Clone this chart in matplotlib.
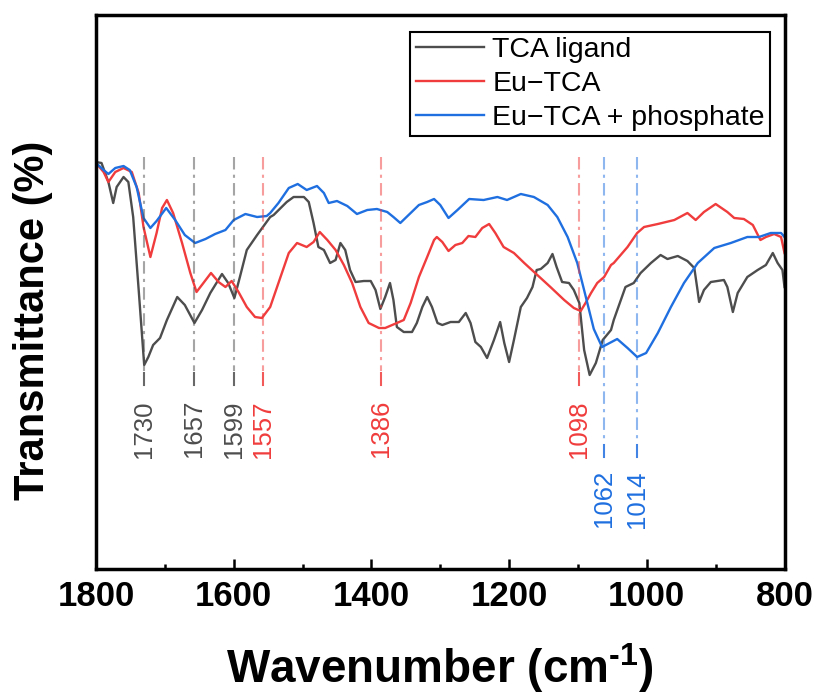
import matplotlib
matplotlib.use('Agg')
import matplotlib.pyplot as plt
from matplotlib.ticker import MultipleLocator

plt.rcParams['font.family'] = ['Liberation Sans', 'DejaVu Sans']
plt.rcParams['mathtext.fontset'] = 'custom'
plt.rcParams['mathtext.rm'] = 'Liberation Sans:bold'
plt.rcParams['mathtext.default'] = 'rm'

# FTIR spectra (wavenumber in cm-1, transmittance in arb. units)
tca_wn = [1800, 1792, 1782, 1775, 1770, 1760, 1753, 1746, 1738, 1730, 1724, 1717, 1707, 1697,
          1682, 1671, 1657, 1646, 1634, 1617, 1608, 1599, 1591, 1581, 1566, 1547, 1542, 1523,
          1513, 1498, 1491, 1484, 1477, 1469, 1460, 1452, 1445, 1438, 1431, 1423, 1411, 1401,
          1394, 1387, 1380, 1373, 1368, 1363, 1353, 1341, 1334, 1326, 1319, 1312, 1304, 1297,
          1285, 1273, 1263, 1256, 1249, 1241, 1232, 1222, 1213, 1207, 1200, 1193, 1183, 1174,
          1166, 1160, 1154, 1144, 1137, 1131, 1123, 1113, 1106, 1098, 1091, 1083, 1074, 1064,
          1052, 1048, 1031, 1019, 1009, 994, 980, 970, 955, 941, 931, 927, 924, 917, 907, 888,
          883, 875, 868, 854, 839, 827, 817, 810, 803, 800]
tca_t = [407, 406, 387, 366, 382, 392, 387, 352, 279, 204, 212, 224, 231, 249,
         272, 264, 246, 259, 276, 295, 286, 271, 292, 319, 334, 352, 354, 367,
         372, 372, 367, 346, 322, 319, 306, 309, 326, 319, 299, 287, 288, 288,
         279, 260, 272, 286, 269, 242, 237, 237, 246, 262, 272, 262, 246, 244,
         247, 247, 256, 246, 227, 222, 211, 229, 247, 226, 207, 229, 262, 271,
         282, 299, 300, 306, 315, 302, 287, 286, 279, 266, 219, 194, 206, 229,
         239, 249, 282, 286, 296, 306, 314, 310, 313, 308, 301, 282, 267, 279, 287, 289,
         282, 257, 276, 292, 299, 304, 316, 306, 299, 282]

eu_wn = [1800, 1789, 1782, 1772, 1760, 1748, 1738, 1731, 1721, 1712, 1704, 1697, 1688, 1675,
         1663, 1654, 1644, 1633, 1622, 1612, 1603, 1593, 1581, 1569, 1559, 1547, 1532, 1520,
         1508, 1494, 1484, 1475, 1464, 1452, 1440, 1428, 1416, 1404, 1389, 1380, 1363, 1353,
         1343, 1331, 1319, 1309, 1305, 1297, 1288, 1278, 1268, 1259, 1249, 1239, 1229, 1220,
         1208, 1193, 1178, 1159, 1140, 1120, 1106, 1096, 1089, 1081, 1072, 1062, 1052, 1048,
         1028, 1014, 1004, 984, 960, 941, 929, 917, 900, 883, 873, 859, 846, 835, 827, 815,
         805, 800]
eu_t = [406, 397, 387, 397, 401, 397, 376, 342, 312, 336, 361, 369, 356, 326,
        296, 277, 286, 296, 287, 282, 288, 277, 262, 252, 251, 262, 292, 316,
        326, 322, 327, 337, 329, 319, 304, 286, 262, 246, 241, 241, 246, 249,
        266, 292, 312, 329, 332, 327, 318, 324, 326, 333, 332, 341, 345, 336,
        322, 316, 306, 294, 282, 269, 261, 258, 266, 276, 286, 292, 304, 306,
        322, 336, 342, 345, 349, 356, 349, 357, 365, 357, 351, 350, 344, 329, 332, 335,
        332, 316]

phos_wn = [1800, 1789, 1782, 1772, 1760, 1751, 1741, 1731, 1721, 1712, 1698, 1685, 1671, 1656,
           1641, 1627, 1612, 1600, 1583, 1566, 1552, 1547, 1535, 1520, 1507, 1494, 1479, 1469,
           1462, 1450, 1435, 1421, 1406, 1392, 1377, 1368, 1358, 1346, 1331, 1319, 1309, 1300,
           1288, 1275, 1258, 1237, 1217, 1203, 1183, 1164, 1144, 1130, 1115, 1101, 1090, 1077,
           1065, 1043, 1028, 1014, 1001, 984, 965, 946, 926, 902, 878, 854, 837, 820, 805, 800]
phos_t = [406, 399, 395, 401, 403, 399, 382, 351, 341, 348, 361, 349, 334, 326,
          330, 335, 339, 349, 355, 352, 353, 356, 366, 381, 385, 379, 383, 376,
          366, 368, 363, 355, 359, 360, 357, 352, 346, 354, 364, 367, 370, 364,
          351, 359, 370, 369, 372, 369, 375, 372, 364, 352, 332, 306, 276, 240,
          222, 230, 221, 212, 216, 236, 262, 286, 306, 321, 326, 332, 332, 336, 336, 332]

peaks_tca = [1730, 1657, 1599]
peaks_eu = [1557, 1386, 1098]
peaks_phos = [1062, 1014]

xticks = [1800, 1600, 1400, 1200, 1000, 800]

gray = '#4d4d4d'
red = '#f03c3c'
blue = '#1f6fe0'

fig = plt.figure(figsize=(8.19, 6.97), dpi=100)
ax = fig.add_axes([96 / 819, 1 - 569 / 697, 688.5 / 819, 554 / 697])

ax.plot(tca_wn, tca_t, color=gray, lw=1.7, label='TCA ligand')
ax.plot(eu_wn, eu_t, color=red, lw=1.7, label='Eu\u2212TCA')
ax.plot(phos_wn, phos_t, color=blue, lw=1.7, label='Eu\u2212TCA + phosphate')

# peak markers: light dash-dot line, darker last dash just above the label
dashdot = (0, (6, 2.5, 1.5, 2.5))
for peaks, c, bottom, ytxt in [(peaks_tca, gray, 184, 169), (peaks_eu, red, 184, 169),
                               (peaks_phos, blue, 112, 99)]:
    for p in peaks:
        ax.plot([p, p], [412, bottom + 14], color=c, lw=1.5, ls=dashdot, alpha=0.5)
        ax.plot([p, p], [bottom + 12, bottom], color=c, lw=1.5, alpha=0.85)
        ax.text(p, ytxt, str(p), rotation=90, ha='center', va='top', color=c, fontsize=18.5)

ax.set_xlim(1800, 800)
ax.set_ylim(0, 554)
ax.set_yticks([])
ax.set_xticks(xticks)
ax.set_xticklabels([str(t) for t in xticks], fontweight='bold')
ax.xaxis.set_minor_locator(MultipleLocator(100))
ax.tick_params(axis='x', which='major', direction='in', length=7, width=1.8, labelsize=25, pad=8)
ax.tick_params(axis='x', which='minor', direction='in', length=3.5, width=1.8)
for s in ax.spines.values():
    s.set_linewidth(2.5)

leg = ax.legend(loc='upper right', bbox_to_anchor=(0.979, 0.969), borderaxespad=0,
                fontsize=20.5, handlelength=2.4, handletextpad=0.3, labelspacing=0.28,
                borderpad=0.18, fancybox=False, edgecolor='black', framealpha=1)
leg.get_frame().set_linewidth(1.5)

fig.text(439.5 / 819, 1 - 683 / 697, 'Wavenumber (cm$^{\u20101}$)', ha='center', va='baseline',
         fontsize=33, fontweight='bold')
fig.text(33 / 819, 1 - 320 / 697, 'Transmittance (%)', rotation=90, ha='center', va='center',
         fontsize=30, fontweight='bold')

fig.savefig('out.png', dpi=100)
